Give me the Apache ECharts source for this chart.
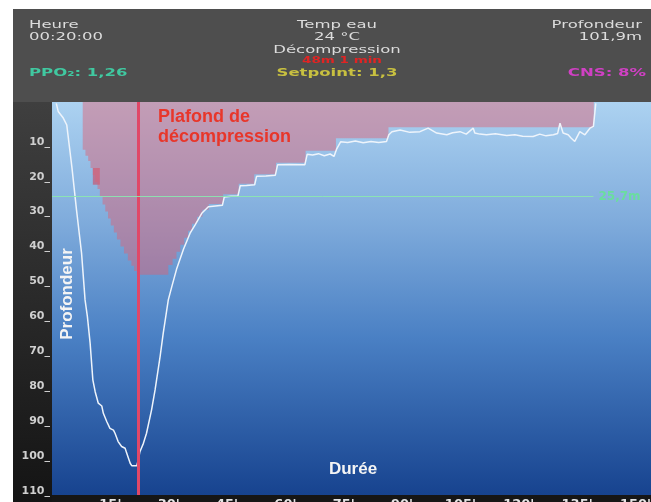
<!DOCTYPE html>
<html><head><meta charset="utf-8">
<script src="https://cdn.jsdelivr.net/npm/echarts@6/dist/echarts.min.js"></script>
<style>html,body{margin:0;padding:0;background:#fff;overflow:hidden}#c{width:651px;height:502px}</style>
</head><body><div id="c"></div>
<script>
// ---- data ----
const xTicks = [15, 30, 45, 60, 75, 90, 105, 120, 135, 150];
const yTicks = [10, 20, 30, 40, 50, 60, 70, 80, 90, 100, 110];

const profileTime = [1.1,1.6,2.9,3.8,5.1,6.3,7.6,8.5,9.1,9.8,10.5,11.1,11.9,12.8,13.2,14.1,14.9,15.8,16.2,17.0,17.9,18.8,19.2,20.1,20.5,21.8,22.2,22.6,23.5,24.3,25.6,26.5,27.8,28.6,29.9,30.8,32.1,33.8,35.5,36.8,38.5,40.2,42,43.8,44.3,46,47.8,48.4,50,52.1,52.6,55,57.4,58,61,65,65.6,67,68.5,70,71.5,72.5,73.2,74.2,76,78,80,82,84,86,86.6,87.4,89.5,92,94.6,96.7,98.9,101.5,103,104.9,106.5,108.3,108.7,110,111.7,114,116.9,119,121,123.7,125.4,127,128.9,130.0,130.6,131.4,132.7,133.5,134.4,135.7,137.0,138.3,139.2,139.8];
const profileDepth = [-1.0,1.3,3.2,5.2,17.1,29.5,41.9,55.3,60.1,67.7,78.2,81.6,84.9,85.7,87.8,90.2,92.1,92.6,93.5,95.9,97.3,97.8,99.2,102.1,102.8,102.8,101.1,98.8,96.4,93.5,86.8,81.1,71.5,64.8,55.3,51.5,46.2,40.8,36.2,33.8,30.5,28.6,28.4,28.2,25.8,25.6,25.5,22.6,22.5,22.3,19.9,19.8,19.6,16.6,16.5,16.6,13.6,13.8,13.4,14.0,13.5,14.2,12.0,10.0,10.2,9.8,10.3,9.9,10.2,9.9,8.0,7.1,6.6,7.3,7.1,6.1,7.5,8.0,7.4,7.1,7.8,6.1,7.5,7.8,8.0,7.7,8.2,8.0,8.4,8.5,7.8,8.3,8.0,7.6,4.7,7.5,8.0,9.0,9.9,7.1,8.0,6.1,5.6,-1.0];

const ceilingTime = [7.9,8.6,9.3,9.9,10.5,11.1,11.7,12.3,13.0,13.7,14.4,15.1,15.9,16.7,17.6,18.5,19.5,20.4,21.1,21.8,29.9,31.0,32.0,33.0,34.0,35.0,36.0,37.3,38.7,40.3,44.0,48.0,52.0,57.6,65.2,73.0,86.5,139.3];
const ceilingDepth = [12.3,14,15.5,17.5,19.5,21.5,23.5,25.7,28,30,32,34,36,38,40,42,44,45.5,47,48.1,45.3,43.5,41.5,39.5,37.5,35.5,33.5,31.5,29.5,27.8,25.0,22.0,19.3,16.0,12.6,9.0,5.8,5.8];

const patchTime = [10.5, 12.3];
const patchDepth = [17.5, 22.3];

const currentTime = 22.2;       // red vertical line
const limitDepth = 25.7;        // green line
const limitEndTime = 139.2;

const headerLeft = ['Heure', '00:20:00'];
const headerCenter = ['Temp eau', '24 °C', 'Décompression'];
const headerRight = ['Profondeur', '101,9m'];
const decoText = '48m 1 min';
const ppoText = 'PPO\u2082: 1,26';
const setpointText = 'Setpoint: 1,3';
const cnsText = 'CNS: 8%';

// ---- chart ----
const zip = (a, b) => a.map((v, i) => [v, b[i]]);
const chart = echarts.init(document.getElementById('c'), null, {renderer: 'canvas'});

function txt(text, x, y, color, align, size, sx, weight) {
  return {type: 'text', x: x, y: y, scaleX: sx || 1, z: 100,
    style: {text: text, fill: color, fontSize: size, fontFamily: 'DejaVu Sans', fontWeight: weight || 'normal',
      align: align, verticalAlign: 'middle', textAlign: align, textVerticalAlign: 'middle'}};
}
const SX = 1.5, FS = 11;
const cx = 337;

const option = {
  animation: false,
  backgroundColor: '#ffffff',
  grid: {left: 52, right: 0, top: 102, bottom: 7, show: true, borderWidth: 0,
    containLabel: false, outerBoundsMode: 'none',
    backgroundColor: new echarts.graphic.LinearGradient(0, 0, 0, 1, [
      {offset: 0, color: '#acd2f1'}, {offset: 0.3, color: '#80acdc'},
      {offset: 0.6, color: '#4a80c4'}, {offset: 1, color: '#17438f'}])},
  xAxis: {type: 'value', min: 0, max: 154, interval: 15,
    axisLine: {show: false}, axisTick: {show: false}, splitLine: {show: false},
    axisLabel: {color: '#e4e4e4', fontFamily: 'DejaVu Sans', fontWeight: 'bold', fontSize: 13, margin: 3,
      formatter: v => (xTicks.indexOf(v) >= 0 ? v + "'" : ''), showMinLabel: false, showMaxLabel: false}},
  yAxis: {type: 'value', inverse: true, min: -1.4, max: 111.2,
    axisLine: {show: false}, axisTick: {show: false}, splitLine: {show: false},
    axisLabel: {customValues: yTicks, color: '#cfcfcf', fontFamily: 'DejaVu Sans', fontWeight: 'bold', fontSize: 11,
      margin: 2, padding: [0, 0, 6, 0], formatter: v => v + '_'}},
  graphic: [
    {type: 'rect', z: -10, shape: {x: 13, y: 9, width: 638, height: 94}, style: {fill: '#4e4e4e'}},
    {type: 'rect', z: -10, shape: {x: 13, y: 102, width: 39, height: 400},
      style: {fill: new echarts.graphic.LinearGradient(0, 0, 0, 1, [{offset: 0, color: '#3f3f3f'}, {offset: 1, color: '#141414'}])}},
    {type: 'rect', z: -10, shape: {x: 52, y: 495, width: 599, height: 7}, style: {fill: '#161616'}},
    txt(headerLeft[0], 29, 25.5, '#dcdcdc', 'left', FS, SX),
    txt(headerLeft[1], 29, 37, '#dcdcdc', 'left', FS, SX),
    txt(headerCenter[0], cx, 25.5, '#dcdcdc', 'center', FS, SX),
    txt(headerCenter[1], cx, 37, '#dcdcdc', 'center', FS, SX),
    txt(headerCenter[2], cx, 50.5, '#dcdcdc', 'center', FS, SX),
    txt(decoText, cx + 5, 61, '#e02424', 'center', 9, SX, 'bold'),
    txt(ppoText, 29, 73.5, '#40c8a0', 'left', FS, SX, 'bold'),
    txt(setpointText, cx, 73.5, '#c8c040', 'center', FS, SX, 'bold'),
    txt(headerRight[0], 642, 25.5, '#dcdcdc', 'right', FS, SX),
    txt(headerRight[1], 642, 37, '#dcdcdc', 'right', FS, SX),
    txt(cnsText, 646, 73.5, '#d040c4', 'right', FS, SX, 'bold'),
    {type: 'text', x: 158, y: 107, z: 100, style: {text: 'Plafond de\ndécompression', fill: '#e8362a',
      fontSize: 18, fontFamily: 'Liberation Sans', fontWeight: 'bold', lineHeight: 20}},
    {type: 'text', x: 353, y: 469, z: 100, style: {text: 'Durée', fill: '#f4f4f4', fontSize: 17,
      fontFamily: 'Liberation Sans', fontWeight: 'bold', align: 'center', verticalAlign: 'middle', textAlign: 'center', textVerticalAlign: 'middle'}},
    {type: 'text', x: 67, y: 294, rotation: Math.PI / 2, z: 100, style: {text: 'Profondeur', fill: '#f4f4f4', fontSize: 17,
      fontFamily: 'Liberation Sans', fontWeight: 'bold', align: 'center', verticalAlign: 'middle', textAlign: 'center', textVerticalAlign: 'middle'}}
  ],
  series: [
    {type: 'line', name: 'Plafond', step: 'end', symbol: 'none', z: 2,
      data: zip(ceilingTime, ceilingDepth),
      lineStyle: {width: 0, opacity: 0},
      areaStyle: {color: 'rgba(222,98,116,0.47)', origin: 'start', opacity: 1},
      markArea: {silent: true, itemStyle: {color: 'rgba(215,60,85,0.55)'},
        data: [[{coord: [patchTime[0], patchDepth[0]]}, {coord: [patchTime[1], patchDepth[1]]}]]}},
    {type: 'line', name: 'Profondeur', symbol: 'none', z: 3,
      data: zip(profileTime, profileDepth),
      lineStyle: {color: '#eef4fb', width: 1.5},
      markLine: {silent: true, symbol: ['none', 'none'],
        data: [
          {xAxis: currentTime, lineStyle: {color: '#e04868', width: 3, type: 'solid'}, label: {show: false}},
          [{coord: [0, limitDepth], lineStyle: {color: 'rgba(140,232,175,0.9)', width: 1, type: 'solid'},
            label: {show: true, position: 'end', formatter: '25,7m', color: '#6ade9e', fontSize: 12,
              fontFamily: 'DejaVu Sans', fontWeight: 'bold', distance: 5}},
           {coord: [limitEndTime, limitDepth]}]
        ]}}
  ]
};
chart.setOption(option);
</script></body></html>
